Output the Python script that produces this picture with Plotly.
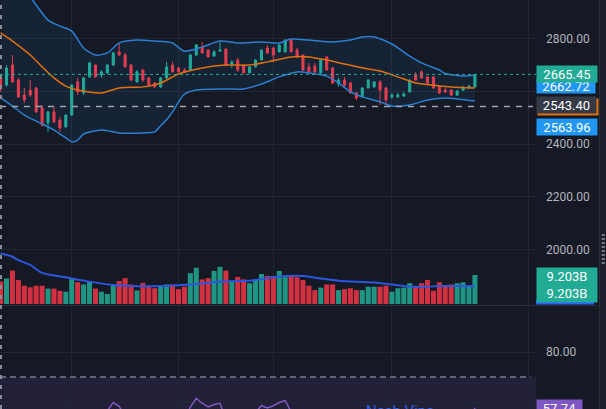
import plotly.graph_objects as go

# ---------------- data ----------------
idx = list(range(81))
opens = [2652, 2625, 2701, 2644, 2587, 2606, 2614, 2538, 2481, 2523,
         2492, 2466, 2511, 2637, 2595, 2656, 2701, 2663, 2671, 2701,
         2751, 2739, 2701, 2637, 2682, 2652, 2633, 2618, 2652, 2701,
         2690, 2682, 2682, 2739, 2770, 2758, 2735, 2754, 2762, 2705,
         2720, 2701, 2671, 2694, 2720, 2766, 2766, 2751, 2751, 2796,
         2758, 2739, 2694, 2697, 2671, 2732, 2690, 2629, 2644, 2633,
         2595, 2580, 2614, 2618, 2637, 2614, 2580, 2580, 2583, 2599,
         2663, 2675, 2656, 2656, 2618, 2606, 2606, 2587, 2606, 2614,
         2618]
highs = [2663, 2701, 2739, 2652, 2614, 2644, 2618, 2549, 2526, 2542,
         2504, 2513, 2627, 2652, 2656, 2713, 2703, 2682, 2705, 2751,
         2785, 2747, 2705, 2682, 2686, 2656, 2637, 2656, 2713, 2713,
         2694, 2690, 2743, 2781, 2789, 2762, 2758, 2789, 2764, 2720,
         2728, 2703, 2697, 2724, 2760, 2777, 2770, 2781, 2798, 2800,
         2766, 2741, 2709, 2709, 2722, 2735, 2692, 2652, 2656, 2637,
         2599, 2616, 2648, 2640, 2644, 2618, 2595, 2595, 2599, 2646,
         2675, 2682, 2659, 2659, 2625, 2614, 2610, 2606, 2621, 2625,
         2667]
lows = [2599, 2618, 2633, 2576, 2557, 2580, 2519, 2466, 2447, 2481,
        2447, 2462, 2509, 2587, 2587, 2652, 2652, 2652, 2667, 2697,
        2737, 2692, 2640, 2633, 2637, 2621, 2614, 2614, 2648, 2673,
        2673, 2671, 2680, 2735, 2743, 2730, 2733, 2751, 2699, 2690,
        2675, 2669, 2669, 2692, 2718, 2743, 2713, 2749, 2749, 2749,
        2728, 2678, 2671, 2671, 2669, 2680, 2629, 2618, 2614, 2593,
        2568, 2578, 2612, 2614, 2549, 2549, 2572, 2576, 2580, 2597,
        2642, 2648, 2629, 2610, 2591, 2595, 2583, 2583, 2602, 2610,
        2616]
closes = [2610, 2690, 2637, 2580, 2568, 2587, 2523, 2473, 2523, 2485,
          2462, 2511, 2625, 2599, 2652, 2709, 2656, 2675, 2701, 2747,
          2739, 2694, 2644, 2675, 2644, 2625, 2618, 2652, 2694, 2675,
          2675, 2675, 2739, 2777, 2747, 2732, 2751, 2758, 2701, 2713,
          2682, 2671, 2694, 2720, 2758, 2747, 2739, 2777, 2796, 2751,
          2732, 2682, 2675, 2675, 2720, 2682, 2633, 2644, 2625, 2595,
          2576, 2614, 2644, 2637, 2606, 2568, 2587, 2587, 2591, 2644,
          2644, 2652, 2633, 2614, 2595, 2599, 2587, 2602, 2618, 2621,
          2665.45]
volume_b = [7.1, 8.1, 10.6, 7.6, 5.8, 5.3, 5.8, 5.8, 4.9, 4.9,
            4.2, 3.9, 7.9, 6.9, 6.2, 7.3, 4.9, 3.9, 3.2, 5.8,
            7.3, 8.2, 6.2, 4.3, 6.7, 5.8, 5.0, 5.5, 6.2, 6.2,
            4.7, 5.5, 9.8, 11.5, 7.8, 8.2, 10.5, 11.8, 10.6, 7.3,
            8.6, 7.8, 6.6, 7.6, 9.5, 8.9, 8.9, 10.5, 8.5, 9.2,
            8.5, 7.6, 5.8, 4.4, 5.2, 6.2, 6.2, 4.4, 4.7, 5.0,
            4.4, 4.4, 5.5, 5.5, 5.5, 5.8, 3.9, 5.0, 5.2, 6.6,
            5.5, 6.6, 7.6, 4.2, 6.9, 5.8, 6.2, 6.6, 6.9, 5.8,
            9.203]

upper_idx = [0, 3, 6, 8, 10, 12, 14, 16, 18, 20, 23, 26, 29, 31, 34, 37, 40,
             44, 47, 49, 52, 56, 59, 61, 63, 66, 69, 71, 74, 75, 78, 80]
upper_val = [3080, 3024, 2929, 2872, 2849, 2830, 2766, 2739, 2747, 2785, 2796,
             2792, 2785, 2754, 2770, 2792, 2785, 2789, 2785, 2800, 2796, 2789,
             2796, 2808, 2808, 2781, 2735, 2709, 2682, 2669, 2659, 2662.72]
mid_idx = [0, 2, 5, 7, 9, 11, 13, 17, 20, 24, 27, 30, 34, 38, 42, 45, 49, 52,
           55, 58, 62, 64, 67, 70, 73, 76, 80]
mid_val = [2823, 2792, 2739, 2694, 2652, 2621, 2606, 2595, 2614, 2618, 2633,
           2667, 2690, 2701, 2701, 2713, 2732, 2732, 2720, 2705, 2686, 2678,
           2656, 2633, 2625, 2618, 2613.34]
lower_idx = [0, 2, 4, 7, 9, 11, 12, 13, 14, 17, 20, 24, 26, 27, 28, 29, 30, 31,
             33, 38, 41, 44, 47, 50, 52, 55, 57, 59, 61, 64, 66, 69, 72, 75, 80]
lower_val = [2576, 2545, 2511, 2477, 2454, 2424, 2409, 2416, 2439, 2454, 2443,
             2443, 2447, 2470, 2493, 2523, 2560, 2590, 2606, 2610, 2610, 2629,
             2656, 2675, 2671, 2659, 2633, 2599, 2580, 2561, 2545, 2549, 2568,
             2576, 2563.96]
vma_idx = [0, 2, 3, 5, 7, 11, 15, 19, 22, 27, 32, 37, 42, 43, 46, 51, 54, 57,
           63, 66, 69, 72, 74, 80]
vma_val = [16.1, 15.0, 13.9, 12.4, 9.9, 8.5, 7.1, 6.0, 5.7, 5.7, 6.2, 7.1, 7.4,
           7.6, 8.5, 8.9, 8.1, 7.4, 6.8, 6.2, 5.5, 5.5, 5.7, 5.7]
rsi = [48, 52, 49, 44, 42, 44, 38, 34, 40, 37,
       35, 40, 50, 47, 52, 56, 52, 54, 56.5, 59.8,
       58.3, 54, 49, 52, 50, 48, 47, 51, 55, 53,
       53, 53, 58, 61.5, 59.5, 58, 59, 59.5, 53, 54,
       52, 51, 53, 56, 58.5, 57.6, 58.5, 59.8, 60.6, 56.5,
       52, 47, 46, 46, 50, 47, 42, 44, 42, 38,
       36, 41, 46, 45, 41, 37, 40, 40, 41, 48,
       47, 49, 45, 42, 40, 41, 39, 43, 47, 48,
       57.74]
price_ticks = [2000, 2200, 2400, 2600, 2800]
# the 2600 label is hidden behind the price labels in the original
price_ticktext = ['2000.00', '2200.00', '2400.00', '', '2800.00']
rsi_ticks = [60, 80]
grid_idx = [12, 30, 46, 66, 89]
last_price = 2665.45
hline_price = 2543.40
upper_last = 2662.72
lower_last = 2563.96
rsi_last = 57.74
note_text = 'Nash Vine'

# ---------------- style ----------------
W, H = 606, 409
PLOT_R = 536
BG = '#151924'
GRID = '#222633'
UP = '#22ab94'
DN = '#f23645'
BAND = '#2b7fd2'
MID = '#e0700f'
TXT = '#b2b5be'
FONT = 'Roboto'


def px_x(p):
    # paper x is relative to the plot area (0..PLOT_R px)
    return p / PLOT_R


def px_y(p):
    return 1 - p / H


fig = go.Figure()
fig.add_trace(go.Scatter(x=lower_idx, y=lower_val, mode='lines',
                         line=dict(color=BAND, width=1.5, shape='spline', smoothing=0.7),
                         xaxis='x', yaxis='y', hoverinfo='skip'))
fig.add_trace(go.Scatter(x=upper_idx, y=upper_val, mode='lines', fill='tonexty',
                         fillcolor='rgba(33,150,243,0.08)',
                         line=dict(color=BAND, width=1.5, shape='spline', smoothing=0.7),
                         xaxis='x', yaxis='y', hoverinfo='skip'))
fig.add_trace(go.Scatter(x=mid_idx, y=mid_val, mode='lines',
                         line=dict(color=MID, width=1.5, shape='spline', smoothing=0.7),
                         xaxis='x', yaxis='y', hoverinfo='skip'))
fig.add_trace(go.Candlestick(x=idx, open=opens, high=highs, low=lows, close=closes,
                             increasing=dict(line=dict(color=UP, width=1), fillcolor=UP),
                             decreasing=dict(line=dict(color=DN, width=1), fillcolor=DN),
                             whiskerwidth=0, xaxis='x', yaxis='y'))
vcolors = ['rgba(34,171,148,0.85)' if c >= o else 'rgba(242,54,69,0.85)'
           for o, c in zip(opens, closes)]
fig.add_trace(go.Bar(x=idx, y=volume_b, marker=dict(color=vcolors, line=dict(width=0)),
                     xaxis='x', yaxis='y3'))
fig.add_trace(go.Scatter(x=vma_idx, y=vma_val, mode='lines',
                         line=dict(color='#2a56e0', width=2, shape='spline', smoothing=0.7),
                         xaxis='x', yaxis='y3'))
fig.add_trace(go.Scatter(x=idx, y=rsi, mode='lines',
                         line=dict(color='#7e57c2', width=1.5),
                         xaxis='x2', yaxis='y2'))

xr = [-0.1, 90.3]
axx = dict(range=xr, showticklabels=False, tickvals=grid_idx, showgrid=True,
           gridcolor=GRID, gridwidth=1, zeroline=False, showline=False, ticks='',
           fixedrange=True)
axy = dict(side='right', showgrid=True, gridcolor=GRID, gridwidth=1,
           zeroline=False, showline=False, ticks='', automargin=False,
           tickfont=dict(family=FONT, size=12, color=TXT), ticklabelstandoff=9)

shapes = [
    # RSI band background
    dict(type='rect', xref='x2 domain', x0=0, x1=1, yref='y2', y0=30, y1=70,
         fillcolor='rgba(126,87,194,0.13)', line=dict(width=0), layer='below'),
    dict(type='line', xref='x2 domain', x0=0, x1=0.99, yref='y2', y0=70, y1=70,
         line=dict(color='#787b86', width=1.5, dash='6px,4px')),
    # last price dotted line
    dict(type='line', xref='paper', x0=0, x1=1, yref='y', y0=last_price,
         y1=last_price, line=dict(color=UP, width=1, dash='dot')),
    # horizontal dashed line
    dict(type='line', xref='paper', x0=0, x1=px_x(533), yref='y', y0=hline_price,
         y1=hline_price, line=dict(color='#a0a3ab', width=1.5, dash='6px,6px')),
    # pane separator
    dict(type='line', xref='paper', x0=0, x1=px_x(600), yref='paper', y0=px_y(305.5),
         y1=px_y(305.5), line=dict(color='#2a2e39', width=1)),
    # left dashed vertical
    dict(type='line', xref='paper', x0=px_x(1), x1=px_x(1), yref='paper', y0=0, y1=1,
         line=dict(color='#8a8d96', width=2, dash='4px,6px')),
    # right strip
    dict(type='rect', xref='paper', x0=px_x(600), x1=px_x(W), yref='paper', y0=0, y1=1,
         fillcolor='#1c202b', line=dict(width=0)),
    dict(type='line', xref='paper', x0=px_x(599.5), x1=px_x(599.5), yref='paper', y0=0, y1=1,
         line=dict(color='#2a2e39', width=1)),
    # volume MA label strip
    dict(type='rect', xref='paper', x0=px_x(536), x1=px_x(594), yref='paper',
         y0=px_y(304.5), y1=px_y(300), fillcolor='#2962ff', line=dict(width=0)),
]
for i in range(8):
    yy = 234 + i * 4
    shapes.append(dict(type='rect', xref='paper', x0=px_x(601.5), x1=px_x(605), yref='paper',
                       y0=px_y(yy + 2), y1=px_y(yy), fillcolor='#6f737d', line=dict(width=0)))


def label(text, yref, y, yshift, bg, w=58, h=14, pad=1, color='#ffffff'):
    return dict(text=text, xref='paper', x=px_x(PLOT_R), xanchor='left', yref=yref, y=y,
                yanchor='middle', yshift=yshift, showarrow=False, bgcolor=bg, width=w,
                height=h, borderpad=pad, align='center',
                font=dict(family=FONT, size=13, color=color))


annotations = [
    label(f'{upper_last:.2f}', 'y', upper_last, -11, '#2196f3', pad=0),
    label(f'{last_price:.2f}', 'y', last_price, 0, '#22ab94'),
    dict(label(' ', 'y', hline_price, 0, MID), xshift=1),
    label(f'{hline_price:.2f}', 'y', hline_price, 1.5, '#363a45', w=57),
    label(f'{lower_last:.2f}', 'y', lower_last, -26, '#2196f3'),
    label(f'{volume_b[-1]:.3f}B<br>{volume_b[-1]:.3f}B', 'y3', volume_b[-1], -9.5,
          '#22ab94', h=32),
    label(f'{rsi_last:.2f}', 'y2', rsi_last, 0, '#7e57c2', w=43),
    dict(text=note_text, xref='paper', x=px_x(364), xanchor='left', yref='paper',
         y=px_y(411), yanchor='middle', showarrow=False,
         font=dict(family=FONT, size=15, color='#2f5ce6')),
]

fig.update_layout(
    width=W, height=H, autosize=False,
    margin=dict(l=0, r=W - PLOT_R, t=0, b=0, pad=0),
    paper_bgcolor=BG, plot_bgcolor=BG, showlegend=False,
    boxgap=0.5, bargap=0.15, hovermode=False,
    xaxis=dict(axx, domain=[0, 1], anchor='y', rangeslider=dict(visible=False)),
    xaxis2=dict(axx, domain=[0, 1], anchor='y2'),
    yaxis=dict(axy, domain=[1 - 305 / H, 1], range=[1789, 2948.2], tickvals=price_ticks,
               ticktext=price_ticktext, anchor='x'),
    yaxis2=dict(axy, domain=[0, 103 / H], range=[57.2, 98.4], tickvals=rsi_ticks,
                tickformat='.2f', anchor='x2'),
    yaxis3=dict(overlaying='y', anchor='x', range=[-0.317, 96.5], visible=False,
                showgrid=False, zeroline=False),
    shapes=shapes, annotations=annotations,
)

fig.write_html('out.html', config={'displayModeBar': False})
